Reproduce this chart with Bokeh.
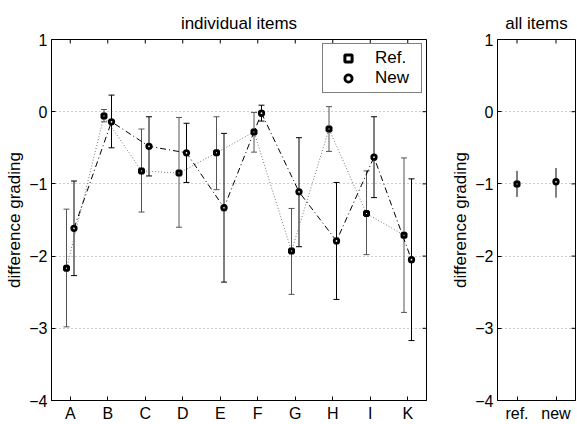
import math
from bokeh.plotting import figure
from bokeh.layouts import row
from bokeh.models import (ColumnDataSource, Whisker, TeeHead, FixedTicker,
                          Legend, LegendItem, Range1d)
from bokeh.embed import file_html
from bokeh.resources import INLINE

# ---- data ----
categories = ["A", "B", "C", "D", "E", "F", "G", "H", "I", "K"]
ref_mean = [-2.17, -0.06, -0.82, -0.85, -0.57, -0.28, -1.93, -0.24, -1.41, -1.71]
ref_upper = [-1.35, 0.03, -0.24, -0.08, -0.07, -0.01, -1.34, 0.07, -0.82, -0.64]
ref_lower = [-2.98, -0.14, -1.39, -1.60, -1.08, -0.56, -2.53, -0.55, -1.98, -2.78]
new_mean = [-1.615, -0.14, -0.48, -0.57, -1.33, -0.02, -1.11, -1.79, -0.63, -2.05]
new_upper = [-0.96, 0.23, -0.07, -0.16, -0.30, 0.09, -0.36, -0.98, -0.07, -0.93]
new_lower = [-2.27, -0.50, -0.89, -0.98, -2.36, -0.13, -1.87, -2.60, -1.19, -3.17]

all_labels = ["ref.", "new"]
all_mean = [-1.00, -0.97]
all_upper = [-0.82, -0.78]
all_lower = [-1.18, -1.19]

y_ticks = [-4, -3, -2, -1, 0, 1]
Y_MIN, Y_MAX = -4, 1
FONT = "Liberation Sans"
MINUS = {t: (str(t).replace("-", "\u2212")) for t in y_ticks}

OFF = 0.1
pos = list(range(1, len(categories) + 1))
ref_x = [x - OFF for x in pos]
new_x = [x + OFF for x in pos]


def style(p, xticks, xlabels, title, x_max):
    p.title.text = title
    p.title.align = "center"
    p.title.text_font = FONT
    p.title.text_font_size = "17px"
    p.title.text_font_style = "normal"
    p.title.text_color = "black"
    p.title.standoff = 13
    p.outline_line_color = "black"
    p.outline_line_width = 1
    p.xgrid.visible = False
    p.ygrid.ticker = FixedTicker(ticks=y_ticks)
    p.ygrid.grid_line_color = "#999999"
    p.ygrid.grid_line_dash = "1 3"
    p.xaxis.ticker = FixedTicker(ticks=xticks)
    p.xaxis.major_label_overrides = {t: l for t, l in zip(xticks, xlabels)}
    p.yaxis.ticker = FixedTicker(ticks=y_ticks)
    p.yaxis.major_label_overrides = MINUS
    p.yaxis.axis_label = "difference grading"
    p.yaxis.axis_label_text_font = FONT
    p.yaxis.axis_label_text_font_size = "17px"
    p.yaxis.axis_label_text_font_style = "normal"
    p.yaxis.axis_label_text_color = "black"
    p.yaxis.axis_label_standoff = 2
    for ax in (p.xaxis[0], p.yaxis[0]):
        ax.major_tick_in = 4
        ax.major_tick_out = 0
        ax.minor_tick_line_color = None
        ax.major_label_text_font = FONT
        ax.major_label_text_font_size = "16px"
        ax.major_label_standoff = 4
        ax.axis_line_color = "black"
        ax.major_tick_line_color = "black"
        ax.major_label_text_color = "black"
    # inward ticks on the top and right edges (boxed axes)
    p.scatter(xticks, [Y_MAX] * len(xticks), marker="dash", angle=math.pi / 2, size=8,
              line_color="black", line_width=1)
    p.scatter([x_max] * len(y_ticks), y_ticks, marker="dash", size=8,
              line_color="black", line_width=1)


# ---- main panel ----
p1 = figure(width=440, height=424, x_range=Range1d(0.5, 10.5), y_range=Range1d(Y_MIN, Y_MAX),
            output_backend="svg", toolbar_location=None,
            min_border_left=51, min_border_right=14, min_border_top=39, min_border_bottom=21)
style(p1, pos, categories, "individual items", 10.5)

ref_src = ColumnDataSource(dict(x=ref_x, y=ref_mean, up=ref_upper, lo=ref_lower))
new_src = ColumnDataSource(dict(x=new_x, y=new_mean, up=new_upper, lo=new_lower))

p1.line("x", "y", source=ref_src, line_color="#777777", line_dash="1 2", line_width=1)
p1.line("x", "y", source=new_src, line_color="black", line_dash="6 3 1 3", line_width=1)

p1.add_layout(Whisker(source=ref_src, base="x", upper="up", lower="lo", dimension="height",
                      line_color="#555555", line_width=1,
                      upper_head=TeeHead(size=6, line_color="#555555", line_width=1),
                      lower_head=TeeHead(size=6, line_color="#555555", line_width=1)))
p1.add_layout(Whisker(source=new_src, base="x", upper="up", lower="lo", dimension="height",
                      line_color="black", line_width=1,
                      upper_head=TeeHead(size=6, line_color="black", line_width=1),
                      lower_head=TeeHead(size=6, line_color="black", line_width=1)))

r_ref = p1.scatter("x", "y", source=ref_src, marker="square", size=4, fill_color="white",
                   line_color="black", line_width=3)
r_new = p1.scatter("x", "y", source=new_src, marker="circle", size=4.5, fill_color="white",
                   line_color="black", line_width=2.8)

legend = Legend(items=[LegendItem(label="Ref.", renderers=[r_ref]),
                       LegendItem(label="New", renderers=[r_new])],
                location="top_right", margin=4, padding=4, spacing=0,
                glyph_width=42, glyph_height=18, label_height=18, label_width=42,
                label_standoff=6, label_text_font=FONT, label_text_font_size="17px",
                label_text_color="black",
                border_line_color="black", border_line_width=1, background_fill_alpha=1)
p1.add_layout(legend)

# ---- all items panel ----
all_x = [1, 2]
p2 = figure(width=136, height=424, x_range=Range1d(0.5, 2.5), y_range=Range1d(Y_MIN, Y_MAX),
            output_backend="svg", toolbar_location=None,
            min_border_left=57, min_border_right=1, min_border_top=39, min_border_bottom=21)
style(p2, all_x, all_labels, "all items", 2.5)

all_src_ref = ColumnDataSource(dict(x=[all_x[0]], y=[all_mean[0]], up=[all_upper[0]], lo=[all_lower[0]]))
all_src_new = ColumnDataSource(dict(x=[all_x[1]], y=[all_mean[1]], up=[all_upper[1]], lo=[all_lower[1]]))
for src in (all_src_ref, all_src_new):
    p2.add_layout(Whisker(source=src, base="x", upper="up", lower="lo", dimension="height",
                          line_color="black", line_width=1,
                          upper_head=TeeHead(size=0, line_color="black", line_width=1),
                          lower_head=TeeHead(size=0, line_color="black", line_width=1)))
p2.scatter("x", "y", source=all_src_ref, marker="square", size=4, fill_color="white",
           line_color="black", line_width=3)
p2.scatter("x", "y", source=all_src_new, marker="circle", size=4.5, fill_color="white",
           line_color="black", line_width=2.8)

layout = row(p1, p2)
open("out.html", "w").write(file_html(layout, INLINE))
